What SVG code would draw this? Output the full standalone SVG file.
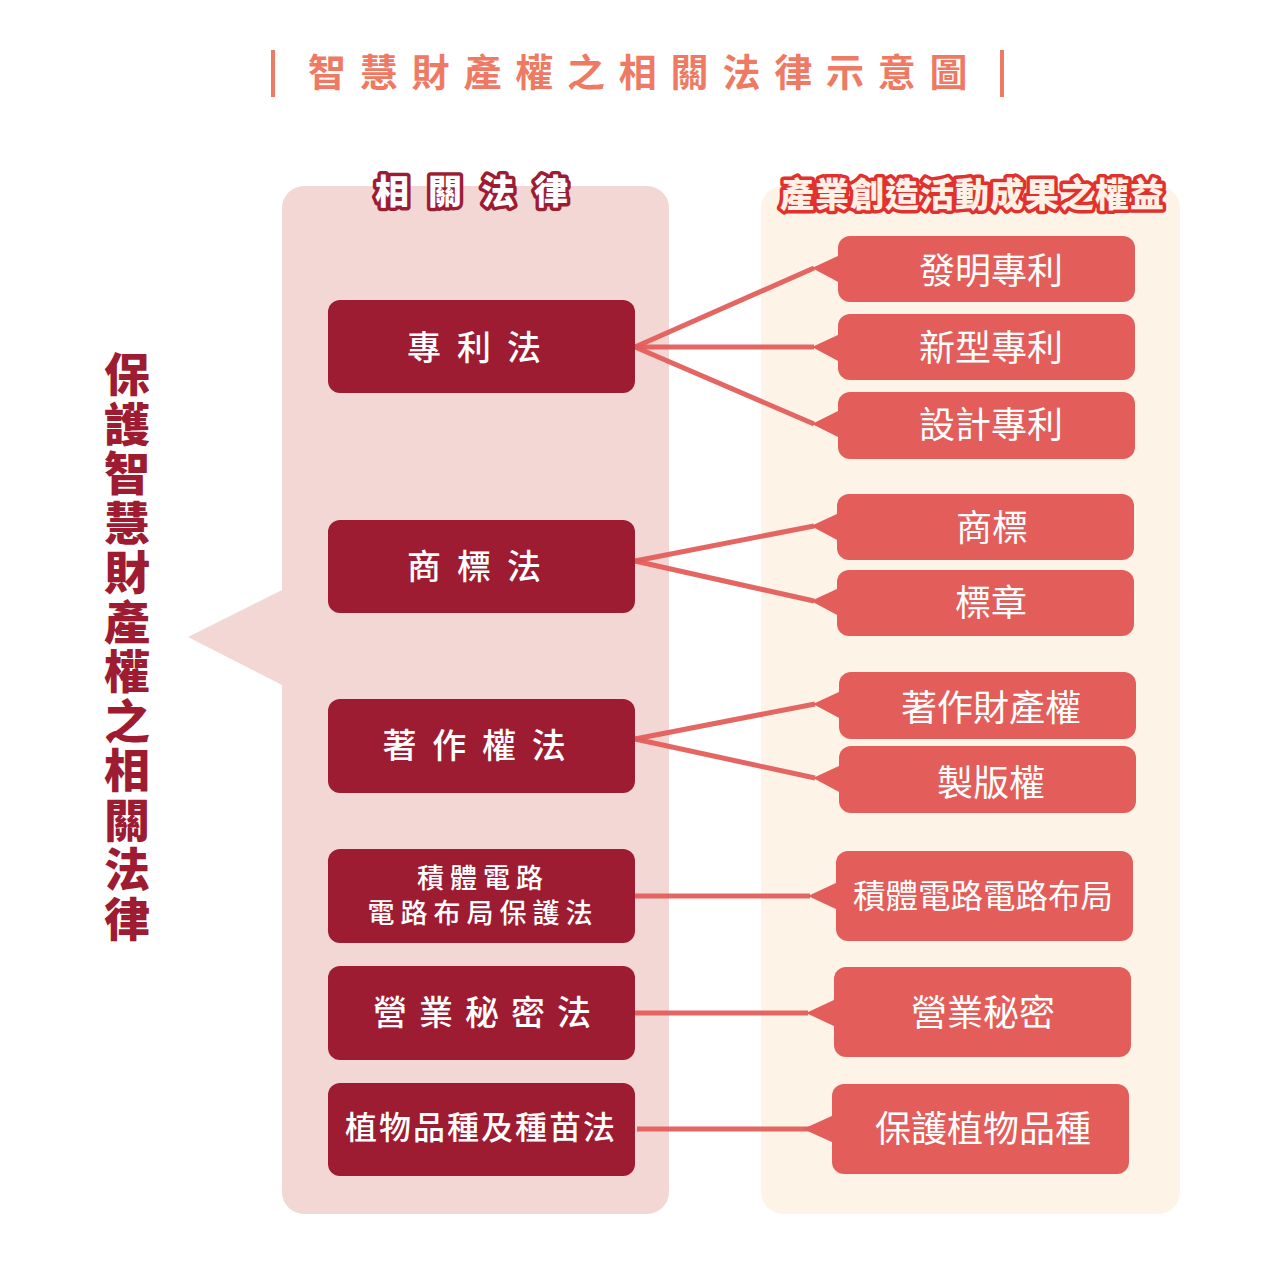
<svg xmlns="http://www.w3.org/2000/svg" width="1280" height="1280" viewBox="0 0 1280 1280">
<style>
text{font-family:"Noto Sans CJK TC","Noto Sans CJK SC",sans-serif;}
.title{font-size:38px;font-weight:700;fill:#ef7a63;letter-spacing:13.8px;}
.law{fill:#9e1c32;}
.lawt{fill:#ffffff;font-size:34px;font-weight:500;text-anchor:middle;}
.right{fill:#e35e5b;}
.rt{fill:#ffffff;font-size:36px;font-weight:400;text-anchor:middle;}
.conn{stroke:#e35e5b;stroke-width:5;fill:none;opacity:0.95;}
.vert{fill:#9e1c32;font-size:46px;font-weight:900;writing-mode:vertical-rl;letter-spacing:3.5px;}
</style>
<rect width="1280" height="1280" fill="#ffffff"/>
<g id="title">
<rect x="271" y="50" width="4" height="47" fill="#ef7a63"/>
<rect x="1000" y="50" width="4" height="47" fill="#ef7a63"/>
<text class="title" x="308" y="86">智慧財產權之相關法律示意圖</text>
</g>
<g id="left-panel">
<rect x="282" y="186" width="387" height="1028" rx="22" fill="#f2d7d5"/>
<polygon points="188,637 282,590 282,685" fill="#f2d7d5"/>
</g>
<g id="right-panel">
<rect x="761" y="186" width="419" height="1028" rx="22" fill="#fdf3e7"/>
</g>
<g id="vertical-label">
<text class="vert" x="127" y="351">保護智慧財產權之相關法律</text>
</g>
<g id="header-left">
<text x="375" y="204" style="font-size:34px;font-weight:900;letter-spacing:19px" fill="#ffffff" stroke="#9e1c32" stroke-width="7" stroke-linejoin="round" paint-order="stroke">相關法律</text>
</g>
<g id="header-right">
<text x="780" y="207" style="font-size:34px;font-weight:900;letter-spacing:1px" fill="#fff1e6" stroke="#e0312f" stroke-width="7" stroke-linejoin="round" paint-order="stroke">產業創造活動成果之權益</text>
</g>
<g id="connectors">
<line class="conn" x1="635" y1="347" x2="814" y2="268"/>
<line class="conn" x1="635" y1="347" x2="814" y2="347"/>
<line class="conn" x1="635" y1="347" x2="814" y2="424"/>
<line class="conn" x1="635" y1="561" x2="814" y2="526"/>
<line class="conn" x1="635" y1="561" x2="814" y2="601"/>
<line class="conn" x1="635" y1="739" x2="815" y2="704"/>
<line class="conn" x1="635" y1="739" x2="815" y2="778"/>
<line class="conn" x1="635" y1="896" x2="810" y2="896"/>
<line class="conn" x1="635" y1="1013" x2="808" y2="1013"/>
<line class="conn" x1="637" y1="1129" x2="816" y2="1129"/>
</g>
<g id="law-patent">
<rect class="law" x="328" y="300" width="307" height="93" rx="12"/>
<text class="lawt" x="482" y="360" style="letter-spacing:16px">專利法</text>
</g>
<g id="law-trademark">
<rect class="law" x="328" y="520" width="307" height="93" rx="12"/>
<text class="lawt" x="482" y="579" style="letter-spacing:16px">商標法</text>
</g>
<g id="law-copyright">
<rect class="law" x="328" y="699" width="307" height="94" rx="12"/>
<text class="lawt" x="482" y="758" style="letter-spacing:15.7px">著作權法</text>
</g>
<g id="law-ic">
<rect class="law" x="328" y="849" width="307" height="94" rx="12"/>
<text class="lawt" style="font-size:27px;letter-spacing:6px"><tspan x="483" y="888">積體電路</tspan><tspan x="483" y="923">電路布局保護法</tspan></text>
</g>
<g id="law-tradesecret">
<rect class="law" x="328" y="966" width="307" height="94" rx="12"/>
<text class="lawt" x="488" y="1025" style="letter-spacing:12px">營業秘密法</text>
</g>
<g id="law-plant">
<rect class="law" x="328" y="1083" width="307" height="93" rx="12"/>
<text class="lawt" x="481" y="1139" style="font-size:32px;letter-spacing:2px">植物品種及種苗法</text>
</g>
<g id="r-invention">
<rect class="right" x="838" y="236" width="297" height="66" rx="12"/>
<polygon class="right" points="812,268 840,255 840,283"/>
<text class="rt" x="991" y="284">發明專利</text>
</g>
<g id="r-utility">
<rect class="right" x="838" y="314" width="297" height="66" rx="12"/>
<polygon class="right" points="812,347 840,334 840,362"/>
<text class="rt" x="991" y="361">新型專利</text>
</g>
<g id="r-design">
<rect class="right" x="838" y="392" width="297" height="67" rx="12"/>
<polygon class="right" points="812,424 840,410 840,438"/>
<text class="rt" x="991" y="438">設計專利</text>
</g>
<g id="r-trademark">
<rect class="right" x="837" y="494" width="297" height="66" rx="12"/>
<polygon class="right" points="811,526 839,513 839,541"/>
<text class="rt" x="992" y="541">商標</text>
</g>
<g id="r-mark">
<rect class="right" x="837" y="570" width="297" height="66" rx="12"/>
<polygon class="right" points="811,601 839,588 839,616"/>
<text class="rt" x="991" y="616">標章</text>
</g>
<g id="r-econ">
<rect class="right" x="839" y="672" width="297" height="67" rx="12"/>
<polygon class="right" points="813,704 841,691 841,719"/>
<text class="rt" x="991" y="721">著作財產權</text>
</g>
<g id="r-print">
<rect class="right" x="839" y="746" width="297" height="67" rx="12"/>
<polygon class="right" points="813,778 841,765 841,793"/>
<text class="rt" x="991" y="796">製版權</text>
</g>
<g id="r-ic">
<rect class="right" x="836" y="851" width="297" height="90" rx="12"/>
<polygon class="right" points="808,896 838,882 838,910"/>
<text class="rt" x="983" y="908" style="font-size:32.5px">積體電路電路布局</text>
</g>
<g id="r-secret">
<rect class="right" x="834" y="967" width="297" height="90" rx="12"/>
<polygon class="right" points="806,1013 836,999 836,1027"/>
<text class="rt" x="983" y="1026">營業秘密</text>
</g>
<g id="r-plant">
<rect class="right" x="832" y="1084" width="297" height="90" rx="12"/>
<polygon class="right" points="803,1129 834,1115 834,1143"/>
<text class="rt" x="983" y="1142">保護植物品種</text>
</g>
</svg>
